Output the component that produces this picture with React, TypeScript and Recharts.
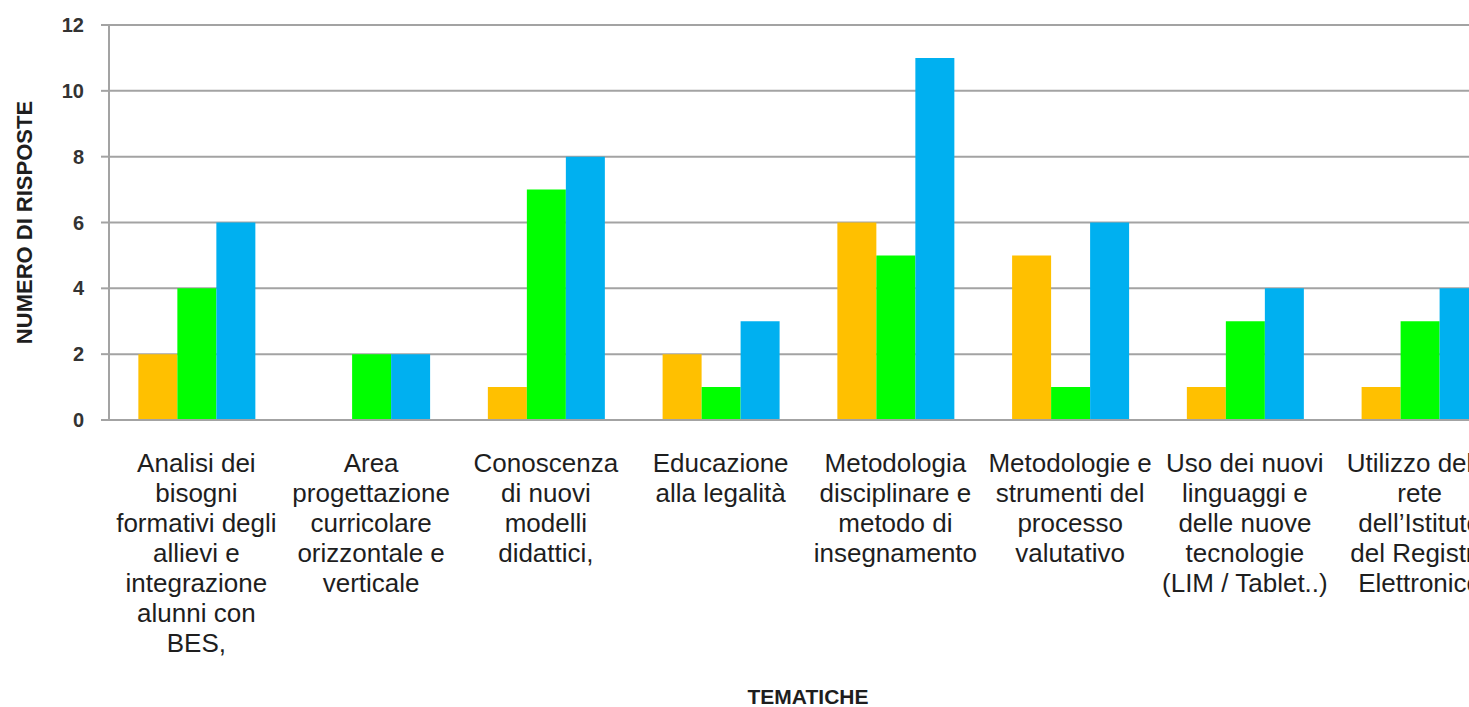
import { BarChart, Bar, XAxis, YAxis, CartesianGrid, Label } from 'recharts'

// Topics surveyed, one per category (line breaks kept as in the axis labels)
const topics = [
  'Analisi dei\nbisogni\nformativi degli\nallievi e\nintegrazione\nalunni con\nBES,',
  'Area\nprogettazione\ncurricolare\norizzontale e\nverticale',
  'Conoscenza\ndi nuovi\nmodelli\ndidattici,',
  'Educazione\nalla legalità',
  'Metodologia\ndisciplinare e\nmetodo di\ninsegnamento',
  'Metodologie e\nstrumenti del\nprocesso\nvalutativo',
  'Uso dei nuovi\nlinguaggi e\ndelle nuove\ntecnologie\n(LIM / Tablet..)',
  'Utilizzo della\nrete\ndell\u2019Istituto\ndel Registro\nElettronico',
]

const serieA = [2, 0, 1, 2, 6, 5, 1, 1]
const serieB = [4, 2, 7, 1, 5, 1, 3, 3]
const serieC = [6, 2, 8, 3, 11, 6, 4, 4]

const yTicks = [0, 2, 4, 6, 8, 10, 12]

const data = topics.map((topic, i) => ({
  topic,
  a: serieA[i],
  b: serieB[i],
  c: serieC[i],
}))

const FONT = '"Liberation Sans", Arial, sans-serif'
const GRID = '#a3a3a3'

function TopicTick({ x, y, payload }: any) {
  const lines = String(payload.value).split('\n')
  return (
    <text x={x} y={y} textAnchor="middle" fontSize={26} fill="#1e1e1e" fontFamily={FONT}>
      {lines.map((line, i) => (
        <tspan key={i} x={x} dy={i === 0 ? 52 : 30}>
          {line}
        </tspan>
      ))}
    </text>
  )
}

export default function App() {
  // the chart is wider than the window; the frame crops it at the right edge
  return (
    <div style={{ position: 'fixed', left: 0, top: 0, width: 1469, height: 707, overflow: 'hidden', background: '#fff' }}>
      <div style={{ position: 'absolute', left: 8, top: 8 }}>
        <BarChart
          width={1511}
          height={699}
          data={data}
          margin={{ top: 17, right: 12, bottom: 0, left: 0 }}
          barCategoryGap="16.8%"
          barGap={0}
        >
          <CartesianGrid vertical={false} stroke={GRID} strokeWidth={2} />
          <XAxis
            dataKey="topic"
            height={287}
            interval={0}
            tickLine={false}
            tickSize={0}
            tickMargin={0}
            axisLine={{ stroke: GRID, strokeWidth: 2 }}
            tick={<TopicTick />}
          >
            <Label
              content={({ viewBox }: any) => (
                <text
                  x={viewBox.x + viewBox.width / 2}
                  y={viewBox.y + 284}
                  textAnchor="middle"
                  fontSize={21}
                  fontWeight="bold"
                  fill="#1e1e1e"
                  fontFamily={FONT}
                >
                  TEMATICHE
                </text>
              )}
            />
          </XAxis>
          <YAxis
            width={101}
            domain={[0, 12]}
            ticks={yTicks}
            interval={0}
            tickSize={8}
            tickMargin={17}
            axisLine={{ stroke: GRID, strokeWidth: 2 }}
            tickLine={{ stroke: GRID, strokeWidth: 2 }}
            tick={{ fontSize: 20, fontWeight: 'bold', fill: '#333', fontFamily: FONT }}
          >
            <Label
              content={({ viewBox }: any) => {
                const cx = 16
                const cy = viewBox.y + viewBox.height / 2
                return (
                  <text
                    x={cx}
                    y={cy}
                    transform={`rotate(-90, ${cx}, ${cy})`}
                    textAnchor="middle"
                    dominantBaseline="central"
                    fontSize={22}
                    fontWeight="bold"
                    fill="#1e1e1e"
                    fontFamily={FONT}
                  >
                    NUMERO DI RISPOSTE
                  </text>
                )
              }}
            />
          </YAxis>
          <Bar dataKey="a" fill="#ffc000" isAnimationActive={false} />
          <Bar dataKey="b" fill="#00ff00" isAnimationActive={false} />
          <Bar dataKey="c" fill="#00b0f0" isAnimationActive={false} />
        </BarChart>
      </div>
    </div>
  )
}
